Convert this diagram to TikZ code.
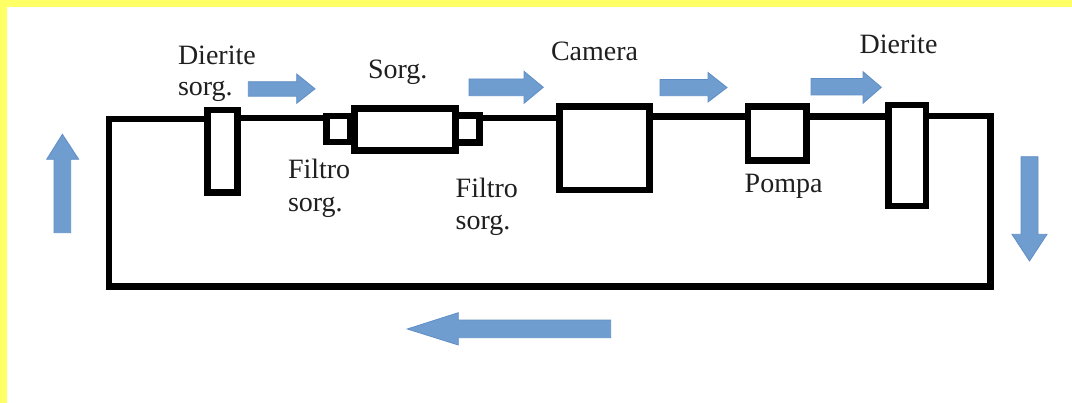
\documentclass[tikz,border=0pt]{standalone}
\usepackage{fontspec}
\setmainfont{Liberation Serif}
\definecolor{flowblue}{RGB}{112,157,208}
\definecolor{flowedge}{RGB}{95,142,198}
\definecolor{bandyellow}{RGB}{255,255,102}
\tikzset{
  pbox/.style 2 args={draw=black,line width=5.1pt,inner sep=0pt,outer sep=0pt,minimum width=#1*0.75pt,minimum height=#2*0.75pt,anchor=north west},
  pipe/.style={draw=black,line width=5.1pt,line join=miter},
  flow/.style={fill=flowblue,draw=flowedge,line width=0.6pt,line join=miter},
  lab/.style={font=\fontsize{21}{24}\selectfont,inner sep=0pt,outer sep=0pt,anchor=base west,align=left,text=black!88}
}
\begin{document}
\begin{tikzpicture}[x=0.75pt,y=-0.75pt]
\useasboundingbox (0,0) rectangle (1072,403);
\fill[white] (0,0) rectangle (1072,403);
\fill[bandyellow] (0,0) rectangle (1072,7);
\fill[bandyellow] (0,0) rectangle (7,403);
% components
\node[pbox={30.5}{82.7}] (ds) at (207.3,110) {};
\node[pbox={23.5}{26}] (fl) at (326.7,116) {};
\node[pbox={23.5}{27}] (fr) at (456,115.5) {};
\node[pbox={101.6}{42.2}] (so) at (354.2,108.3) {};
\node[pbox={90.2}{83.5}] (ca) at (559.3,106.5) {};
\node[pbox={58.5}{54.2}] (po) at (748,106.5) {};
\node[pbox={37.5}{101}] (di) at (888.5,105) {};
% loop corners
\coordinate (tl) at (109,119);
\coordinate (tr) at (990.5,116);
\coordinate (br) at (990.5,286.5);
\coordinate (bl) at (109,286.5);
% connectors
\draw[pipe] ([shift={(0,9)}]ds.north west) -- (tl) -- (bl) -- (br) -- (tr) -- ([shift={(0,11)}]di.north east);
\draw[pipe] ([shift={(0,8)}]ds.north east) -- ([shift={(0,2)}]fl.north west);
\draw[pipe] ([shift={(0,2.5)}]fr.north east) -- ([shift={(0,11.5)}]ca.north west);
\draw[pipe] ([shift={(0,10)}]ca.north east) -- ([shift={(0,10)}]po.north west);
\draw[pipe] ([shift={(0,10)}]po.north east) -- ([shift={(0,11.5)}]di.north west);
% flow arrows
\path[flow] (248.3,81.7) -- (296.7,81.7) -- (296.7,74) -- (315,88.8) -- (296.7,103.3) -- (296.7,96.2) -- (248.3,96.2) -- cycle;
\path[flow] (469,79) -- (524,79) -- (524,71.3) -- (543.3,87.3) -- (524,103.3) -- (524,95.7) -- (469,95.7) -- cycle;
\path[flow] (660,79.5) -- (708,79.5) -- (708,72.5) -- (727,87.5) -- (708,102) -- (708,95.7) -- (660,95.7) -- cycle;
\path[flow] (811,78.5) -- (863,78.5) -- (863,71.7) -- (881.3,87.3) -- (863,103.3) -- (863,95) -- (811,95) -- cycle;
\path[flow] (54,232.7) -- (54,159.3) -- (46.7,159.3) -- (62.4,134.3) -- (78.7,159.3) -- (70.7,159.3) -- (70.7,232.7) -- cycle;
\path[flow] (1021,156.7) -- (1038,156.7) -- (1038,234.3) -- (1047,234.3) -- (1029.5,261) -- (1012,234.3) -- (1021,234.3) -- cycle;
\path[flow] (610.7,320) -- (458.3,320) -- (458.3,312.7) -- (407.3,329) -- (458.3,345) -- (458.3,337.7) -- (610.7,337.7) -- cycle;
% labels
\node[lab] (t1) at (178,64.3) {Dierite};
\node[lab] (t2) at (178,96) {sorg.};
\node[lab] (t3) at (368,79) {Sorg.};
\node[lab] (t4) at (288,179) {Filtro};
\node[lab] (t5) at (288,211) {sorg.};
\node[lab] (t6) at (455.7,197) {Filtro};
\node[lab] (t7) at (455.7,229) {sorg.};
\node[lab] (t8) at (551,61) {Camera};
\node[lab] (t9) at (744.7,192.7) {Pompa};
\node[lab] (t10) at (859.7,53.7) {Dierite};
\end{tikzpicture}
\end{document}
